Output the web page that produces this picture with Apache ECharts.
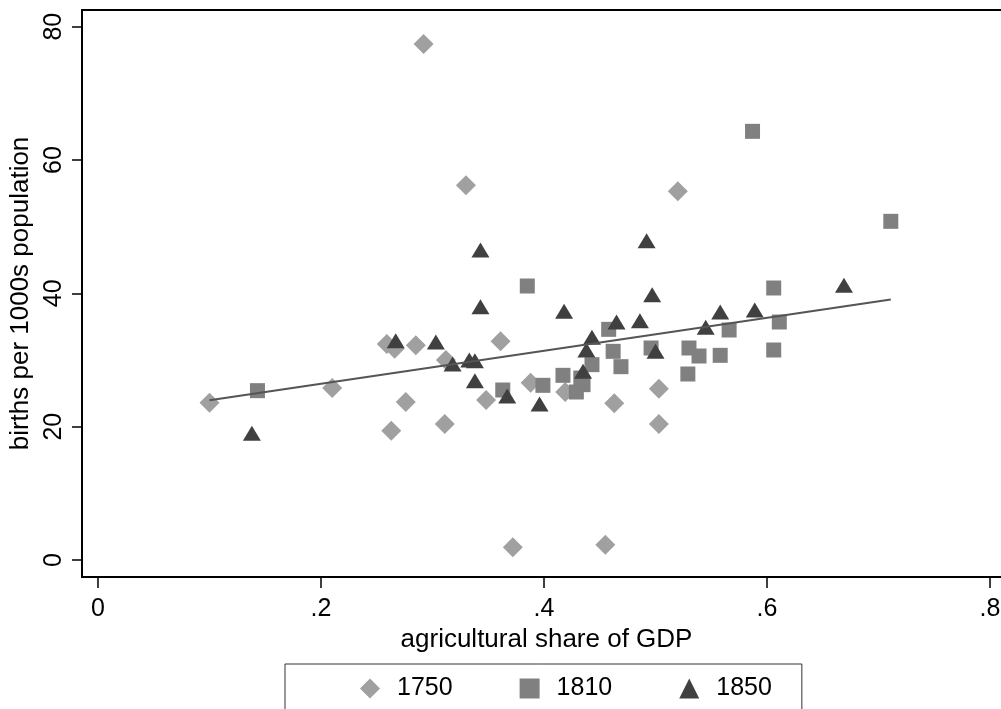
<!DOCTYPE html>
<html>
<head>
<meta charset="utf-8">
<script src="https://cdn.jsdelivr.net/npm/echarts@6/dist/echarts.min.js"></script>
<style>
  html, body { margin: 0; padding: 0; background: #fff; }
  #chart { width: 1001px; height: 709px; }
</style>
</head>
<body>
<div id="chart"></div>
<script>
// [agricultural share of GDP, births per 1000s population]
const data1750 = [
  [0.100, 23.6], [0.210, 25.8], [0.259, 32.4], [0.266, 31.7], [0.285, 32.2],
  [0.292, 77.4], [0.312, 30.0], [0.330, 56.2], [0.361, 32.8], [0.276, 23.7],
  [0.263, 19.4], [0.311, 20.4], [0.348, 24.0], [0.388, 26.6], [0.419, 25.2],
  [0.463, 23.5], [0.503, 25.7], [0.503, 20.4], [0.372, 1.9], [0.455, 2.3],
  [0.520, 55.3]
]
const data1810 = [
  [0.143, 25.4], [0.385, 41.1], [0.458, 34.6], [0.462, 31.3], [0.496, 31.8],
  [0.443, 29.3], [0.469, 29.0], [0.417, 27.7], [0.433, 27.3], [0.435, 26.3],
  [0.429, 25.2], [0.399, 26.2], [0.363, 25.5], [0.587, 64.3], [0.711, 50.8],
  [0.606, 40.8], [0.611, 35.7], [0.566, 34.5], [0.530, 31.8], [0.539, 30.6],
  [0.558, 30.7], [0.606, 31.5], [0.529, 27.9]
]
const data1850 = [
  [0.138, 19.0], [0.343, 46.5], [0.492, 47.9], [0.497, 39.8], [0.343, 38.0],
  [0.418, 37.3], [0.465, 35.7], [0.486, 35.9], [0.443, 33.4], [0.267, 32.9],
  [0.303, 32.7], [0.318, 29.4], [0.333, 30.0], [0.338, 29.9], [0.438, 31.5],
  [0.500, 31.3], [0.338, 26.9], [0.435, 28.3], [0.367, 24.6], [0.396, 23.4],
  [0.669, 41.2], [0.558, 37.2], [0.589, 37.5], [0.545, 34.9]
]
// fitted line, end points
const fitLine = [[0.100, 23.97], [0.711, 39.06]]

const xTickValues = [0, 0.2, 0.4, 0.6, 0.8]
const xTickLabels = ['0', '.2', '.4', '.6', '.8']
const yTickValues = [0, 20, 40, 60, 80]
const yTickLabels = ['0', '20', '40', '60', '80']

const font = '"Liberation Sans", Arial, sans-serif'
const myChart = echarts.init(document.getElementById('chart'))

myChart.setOption({
  animation: false,
  backgroundColor: '#fff',
  textStyle: { fontFamily: font, color: '#000' },
  grid: {
    left: 82, top: 10, right: -10, bottom: 132,
    outerBoundsMode: 'none',
    containLabel: false,
    show: true, borderColor: '#000', borderWidth: 2
  },
  legend: {
    left: 285, top: 664,
    padding: [12, 30, 40, 75],
    borderColor: '#333', borderWidth: 1,
    itemWidth: 20, itemHeight: 20, itemGap: 67,
    textStyle: { fontSize: 25, fontFamily: font, color: '#000', padding: [0, 0, 0, 12] },
    data: ['1750', '1810', '1850']
  },
  xAxis: {
    type: 'value',
    min: -0.01435, max: 0.8188,
    name: 'agricultural share of GDP',
    nameLocation: 'middle',
    nameGap: 47,
    nameTextStyle: { fontSize: 26, fontFamily: font, color: '#000' },
    splitLine: { show: false },
    axisLine: { show: false, onZero: false },
    axisTick: {
      show: true, inside: false, length: 11, customValues: xTickValues,
      lineStyle: { color: '#000', width: 1.5 }
    },
    axisLabel: {
      customValues: xTickValues, margin: 20,
      fontSize: 25, color: '#000', fontFamily: font,
      formatter: v => xTickLabels[xTickValues.findIndex(t => Math.abs(t - v) < 1e-9)]
    }
  },
  yAxis: {
    type: 'value',
    min: -2.55, max: 82.5,
    name: 'births per 1000s population',
    nameLocation: 'middle',
    nameRotate: 90,
    nameGap: 39,
    nameTextStyle: { fontSize: 26, fontFamily: font, color: '#000' },
    splitLine: { show: false },
    axisLine: { show: false, onZero: false },
    axisTick: {
      show: true, inside: false, length: 10, customValues: yTickValues,
      lineStyle: { color: '#000', width: 1.5 }
    },
    axisLabel: {
      customValues: yTickValues, rotate: 90, margin: 15,
      fontSize: 25, color: '#000', fontFamily: font,
      formatter: v => yTickLabels[yTickValues.indexOf(v)]
    }
  },
  series: [
    {
      name: 'fit', type: 'line', data: fitLine,
      symbol: 'none', silent: true,
      lineStyle: { color: '#555', width: 2 }
    },
    {
      name: '1750', type: 'scatter', data: data1750,
      symbol: 'diamond', symbolSize: 20,
      itemStyle: { color: '#a0a0a0', opacity: 1 }
    },
    {
      name: '1810', type: 'scatter', data: data1810,
      symbol: 'rect', symbolSize: 15,
      itemStyle: { color: '#808080', opacity: 1 }
    },
    {
      name: '1850', type: 'scatter', data: data1850,
      symbol: 'triangle', symbolSize: [18, 15],
      itemStyle: { color: '#404040', opacity: 1 }
    }
  ]
})
</script>
</body>
</html>
